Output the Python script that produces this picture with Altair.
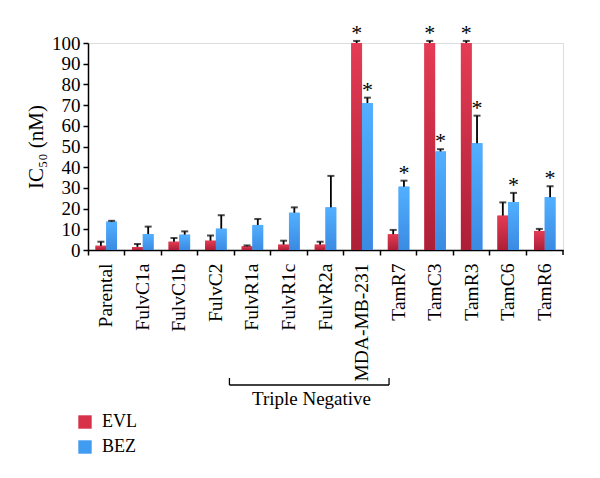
import altair as alt
import pandas as pd

categories = ["Parental", "FulvC1a", "FulvC1b", "FulvC2", "FulvR1a", "FulvR1c",
              "FulvR2a", "MDA-MB-231", "TamR7", "TamC3", "TamR3", "TamC6", "TamR6"]
series = ["EVL", "BEZ"]
evl_values = [2.0, 1.5, 4.0, 4.5, 1.8, 2.6, 2.6, 100.0, 7.6, 100.0, 100.0, 16.6, 9.2]
evl_errors = [2.0, 1.4, 1.8, 2.5, 0.4, 1.9, 1.4, 1.0, 2.1, 1.0, 1.0, 6.4, 1.0]
bez_values = [13.7, 7.7, 7.4, 10.3, 12.1, 18.0, 20.6, 71.0, 30.6, 47.6, 51.6, 23.2, 25.5]
bez_errors = [0.4, 3.6, 1.6, 6.5, 2.9, 2.6, 15.2, 2.6, 2.9, 1.1, 13.3, 4.4, 5.3]
evl_sig = [0, 0, 0, 0, 0, 0, 0, 1, 0, 1, 1, 0, 0]
bez_sig = [0, 0, 0, 0, 0, 0, 0, 1, 1, 1, 1, 1, 1]
colors = ["#d8324a", "#3f9cf0"]
y_ticks = list(range(0, 101, 10))

rows = []
for i, c in enumerate(categories):
    rows.append({"cat": c, "series": "EVL", "value": evl_values[i],
                 "top": evl_values[i] + evl_errors[i], "sig": "*" if evl_sig[i] else ""})
    rows.append({"cat": c, "series": "BEZ", "value": bez_values[i],
                 "top": bez_values[i] + bez_errors[i], "sig": "*" if bez_sig[i] else ""})
df = pd.DataFrame(rows)

FONT = "Liberation Serif"
W, H = 475, 207

xs = alt.Scale(domain=categories, paddingInner=0, paddingOuter=0)
xo = alt.Scale(domain=series, paddingInner=0, paddingOuter=0.7)
ys = alt.Scale(domain=[0, 100], nice=False)

x_enc = alt.X("cat:N", scale=xs, sort=categories, title=None,
              axis=alt.Axis(labelAngle=-90, bandPosition=0, tickSize=5, labelPadding=8,
                            labelFont=FONT, labelFontSize=19.5, labelColor="black",
                            domainColor="black", tickColor="black", domainWidth=1.5,
                            tickWidth=1.5, labelOverlap=False))
xo_enc = alt.XOffset("series:N", scale=xo, sort=series)

base = alt.Chart(df)

bars_solid = base.mark_bar().encode(
    x=x_enc, xOffset=xo_enc,
    y=alt.Y("value:Q", scale=ys, title="IC₅₀ (nM)",
            axis=alt.Axis(values=y_ticks, tickCount=11, grid=False, tickSize=5, labelFont=FONT,
                          labelFontSize=19, labelColor="black", titleFont=FONT,
                          titleFontSize=21, titleFontWeight="normal", titleColor="black",
                          titlePadding=5, domainColor="black", tickColor="black",
                          domainWidth=1.5, tickWidth=1.5, labelPadding=3,
                          labelOverlap=False)),
    color=alt.Color("series:N", scale=alt.Scale(domain=series, range=colors), sort=series,
                    legend=alt.Legend(title=None, orient="none", legendX=-12, legendY=370,
                                      symbolType="square", symbolSize=180,
                                      symbolStrokeWidth=0, labelFont=FONT,
                                      labelFontSize=18, labelColor="black",
                                      rowPadding=7, labelOffset=8)),
)

grad_red = alt.Gradient(gradient="linear", x1=0, y1=0, x2=0, y2=1,
                        stops=[alt.GradientStop(offset=0, color="#e43c54"),
                               alt.GradientStop(offset=1, color="#ad1f37")])
grad_blue = alt.Gradient(gradient="linear", x1=0, y1=0, x2=0, y2=1,
                         stops=[alt.GradientStop(offset=0, color="#52b0ff"),
                                alt.GradientStop(offset=1, color="#3a8ae2")])

bars_red = base.transform_filter(alt.datum.series == "EVL").mark_bar(color=grad_red).encode(
    x=alt.X("cat:N", scale=xs, sort=categories), xOffset=xo_enc,
    y=alt.Y("value:Q", scale=ys))
bars_blue = base.transform_filter(alt.datum.series == "BEZ").mark_bar(color=grad_blue).encode(
    x=alt.X("cat:N", scale=xs, sort=categories), xOffset=xo_enc,
    y=alt.Y("value:Q", scale=ys))

err_rule = base.mark_rule(color="black", strokeWidth=1.8).encode(
    x=alt.X("cat:N", scale=xs, sort=categories), xOffset=xo_enc,
    y=alt.Y("value:Q", scale=ys), y2="top:Q")
err_cap = base.mark_tick(color="black", thickness=2, size=7, orient="horizontal").encode(
    x=alt.X("cat:N", scale=xs, sort=categories), xOffset=xo_enc,
    y=alt.Y("top:Q", scale=ys))

stars = base.mark_text(font=FONT, fontSize=22, baseline="alphabetic", dy=-1,
                       color="black").encode(
    x=alt.X("cat:N", scale=xs, sort=categories), xOffset=xo_enc,
    y=alt.Y("top:Q", scale=ys), text="sig:N")

end_tick = alt.Chart(pd.DataFrame({"a": [0]})).mark_rule(color="black", strokeWidth=1.5).encode(
    x=alt.value(W), y=alt.value(H), y2=alt.value(H + 5))

br_df = pd.DataFrame({"cat": ["FulvR1a"], "cat2": ["MDA-MB-231"]})
bracket_h = alt.Chart(br_df).mark_rule(color="black", strokeWidth=1.3, xOffset=-23,
                                       x2Offset=27).encode(
    x=alt.X("cat:N", scale=xs, sort=categories), x2="cat2:N",
    y=alt.value(342))
bracket_l = alt.Chart(br_df).mark_rule(color="black", strokeWidth=1.3, xOffset=-23).encode(
    x=alt.X("cat:N", scale=xs, sort=categories), y=alt.value(335), y2=alt.value(342))
bracket_r = alt.Chart(br_df).mark_rule(color="black", strokeWidth=1.3, xOffset=27).encode(
    x=alt.X("cat2:N", scale=xs, sort=categories), y=alt.value(335), y2=alt.value(342))
tn_df = pd.DataFrame({"cat": ["FulvR2a"], "label": ["Triple Negative"]})
tn_text = alt.Chart(tn_df).mark_text(font=FONT, fontSize=19, color="black", baseline="middle",
                                     xOffset=-14).encode(
    x=alt.X("cat:N", scale=xs, sort=categories), y=alt.value(356), text="label:N")

chart = alt.layer(bars_solid, bars_red, bars_blue, err_rule, err_cap, stars, end_tick,
                  bracket_h, bracket_l, bracket_r, tn_text).properties(
    width=W, height=H,
    autosize=alt.AutoSizeParams(type="none"),
    padding={"left": 80, "top": 35, "right": 20, "bottom": 218},
).configure_view(stroke=None).configure(background="white", font=FONT).configure_text(font=FONT)

chart.save("out.html", embed_options={"renderer": "svg", "actions": False})
